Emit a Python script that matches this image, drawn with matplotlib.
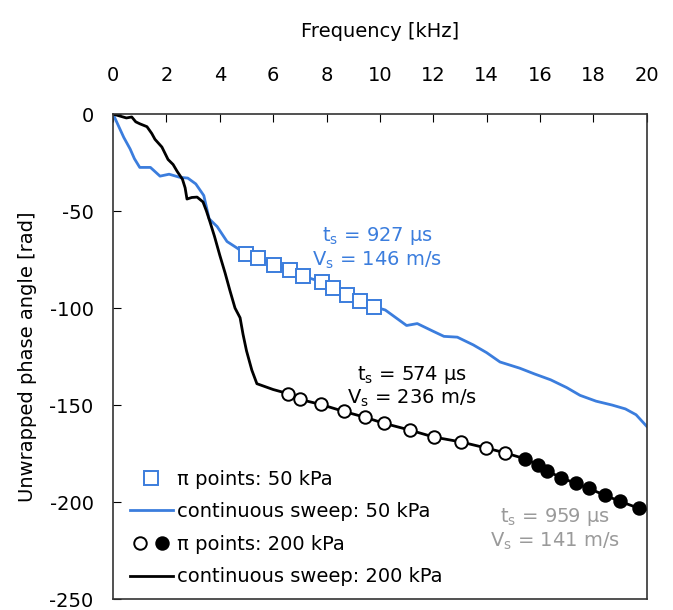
import numpy as np
import matplotlib
matplotlib.use("Agg")
import matplotlib.pyplot as plt
from matplotlib.lines import Line2D
from matplotlib.legend_handler import HandlerTuple

blue = "#3b7ddd"
gray = "#9a9a9a"

# continuous sweep, 50 kPa
f_sweep50 = [0, 0.2, 0.4, 0.64, 0.8, 1.0, 1.4, 1.76, 2.1, 2.5, 2.8, 3.1, 3.4, 3.6, 3.9,
             4.27, 4.64, 4.98, 5.43, 6.03, 6.63, 7.12, 7.83, 8.24, 8.76, 9.25, 9.78,
             10.2, 10.6, 11.0, 11.4, 12.0, 12.4, 12.9, 13.5, 14.0, 14.5, 15.24, 15.8,
             16.4, 17.0, 17.5, 18.1, 18.7, 19.2, 19.6, 20.0]
p_sweep50 = [0, -6, -12, -18, -23, -27.5, -27.5, -32, -31, -32.6, -33, -36, -42, -54, -58,
             -65.7, -69, -72.3, -74.3, -77.9, -80.4, -83.5, -86.6, -89.6, -93.2, -96.2, -99.3,
             -101, -105, -109, -108, -112, -114.6, -115, -119, -123, -127.8, -131, -134,
             -137, -141, -145, -148, -150, -152, -155, -161]

# pi points, 50 kPa
f_pi50 = [4.98, 5.43, 6.03, 6.63, 7.12, 7.83, 8.24, 8.76, 9.25, 9.78]
p_pi50 = [-72.3, -74.3, -77.9, -80.4, -83.5, -86.6, -89.6, -93.2, -96.2, -99.3]

# continuous sweep, 200 kPa
f_sweep200 = [0, 0.25, 0.5, 0.7, 0.85, 1.0, 1.27, 1.45, 1.57, 1.83, 2.06, 2.25, 2.4, 2.6,
              2.7, 2.77, 2.95, 3.15, 3.37, 3.5, 3.63, 3.8, 4.0, 4.2, 4.38, 4.57, 4.76,
              4.87, 5.0, 5.2, 5.39, 6.0, 6.55, 7.0, 7.79, 8.65, 9.44, 10.15, 11.12,
              12.02, 13.03, 13.97, 14.68, 15.43, 15.92, 16.25, 16.78, 17.34, 17.83,
              18.43, 18.99, 19.7, 20.0]
p_sweep200 = [0, -1, -2, -1.5, -4, -5, -6.5, -10, -13, -17, -23.4, -26, -29.5, -33.6,
              -38, -43.8, -43, -42.8, -45.3, -50, -55.5, -63, -72.8, -82, -91, -100, -105,
              -113.5, -122, -132, -139, -142, -144.1, -147.1, -149.7, -153.3, -156.3,
              -159.4, -162.9, -166.5, -169.0, -172.1, -174.6, -177.7, -180.8, -183.8,
              -187.4, -190.4, -193.0, -196.5, -199.6, -203.2, -204]

# pi points, 200 kPa (open: t_s = 574 us, filled: t_s = 959 us)
f_pi200_open = [6.55, 7.0, 7.79, 8.65, 9.44, 10.15, 11.12, 12.02, 13.03, 13.97, 14.68]
p_pi200_open = [-144.1, -147.1, -149.7, -153.3, -156.3, -159.4, -162.9, -166.5, -169.0,
                -172.1, -174.6]
f_pi200_fill = [15.43, 15.92, 16.25, 16.78, 17.34, 17.83, 18.43, 18.99, 19.7]
p_pi200_fill = [-177.7, -180.8, -183.8, -187.4, -190.4, -193.0, -196.5, -199.6, -203.2]

plt.rcParams["font.family"] = "DejaVu Sans"
plt.rcParams["axes.unicode_minus"] = False
fig = plt.figure(figsize=(6.73, 6.10), dpi=100)
ax = fig.add_axes([0.168, 0.018, 0.793, 0.795])

ax.plot(f_sweep50, p_sweep50, color=blue, lw=2, zorder=2)
ax.plot(f_pi50, p_pi50, ls="none", marker="s", ms=9.5, mfc="white", mec=blue, mew=1.4, zorder=3)
ax.plot(f_sweep200, p_sweep200, color="black", lw=2, zorder=2)
ax.plot(f_pi200_open, p_pi200_open, ls="none", marker="o", ms=9, mfc="white", mec="black", mew=1.4, zorder=3)
ax.plot(f_pi200_fill, p_pi200_fill, ls="none", marker="o", ms=9, mfc="black", mec="black", mew=1.4, zorder=3)

ax.set_xlim(0, 20)
ax.set_ylim(-250, 0)
ax.set_xticks(np.arange(0, 21, 2))
ax.set_yticks(np.arange(-250, 1, 50))
ax.xaxis.tick_top()
ax.xaxis.set_label_position("top")
ax.tick_params(direction="in", length=6, labelsize=14, pad=14)
ax.tick_params(axis="x", pad=21)
ax.set_xlabel("Frequency [kHz]", fontsize=14, labelpad=21)
ax.set_ylabel("Unwrapped phase angle [rad]", fontsize=14, labelpad=9)
for s in ax.spines.values():
    s.set_linewidth(1.2)
    s.set_color("#333333")

ax.text(9.9, -69, "t$_\\mathrm{s}$ = 927 µs\nV$_\\mathrm{s}$ = 146 m/s", color=blue,
        fontsize=14, ha="center", va="center", linespacing=1.15)
ax.text(11.2, -140.5, "t$_\\mathrm{s}$ = 574 µs\nV$_\\mathrm{s}$ = 236 m/s", color="black",
        fontsize=14, ha="center", va="center", linespacing=1.15)
ax.text(16.55, -214, "t$_\\mathrm{s}$ = 959 µs\nV$_\\mathrm{s}$ = 141 m/s", color=gray,
        fontsize=14, ha="center", va="center", linespacing=1.15)

h1 = Line2D([], [], ls="none", marker="s", ms=9.5, mfc="white", mec=blue, mew=1.4)
h2 = Line2D([], [], color=blue, lw=2)
h3a = Line2D([], [], ls="none", marker="o", ms=9, mfc="white", mec="black", mew=1.4)
h3b = Line2D([], [], ls="none", marker="o", ms=9, mfc="black", mec="black", mew=1.4)
h4 = Line2D([], [], color="black", lw=2)
ax.legend([h1, h2, (h3a, h3b), h4],
          ["π points: 50 kPa", "continuous sweep: 50 kPa", "π points: 200 kPa",
           "continuous sweep: 200 kPa"],
          handler_map={tuple: HandlerTuple(ndivide=None, pad=0.1)},
          loc="lower left", bbox_to_anchor=(0.017, 0.01), frameon=False, fontsize=14,
          handlelength=2.2, handletextpad=0.2, labelspacing=0.7, borderaxespad=0)

fig.savefig("out.png", dpi=100)
